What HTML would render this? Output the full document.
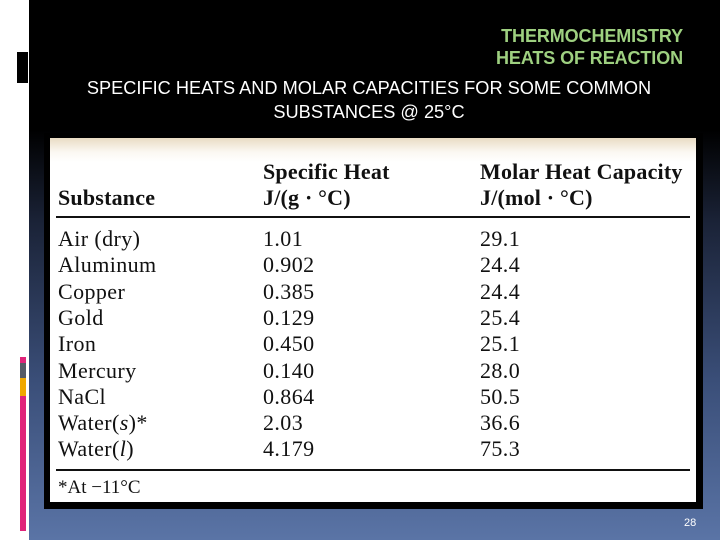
<!DOCTYPE html>
<html><head><meta charset="utf-8"><style>
body{margin:0;width:720px;height:540px;overflow:hidden;position:relative;background:#fff;font-family:"Liberation Sans",sans-serif}
.bg{position:absolute;left:29px;top:0;width:691px;height:540px;background:linear-gradient(#000 0px,#000 130px,#1a2236 220px,#3a4e78 380px,#5a74a6 540px)}
.abs{position:absolute}
.t{position:absolute;font-family:"Liberation Serif",serif;font-size:22px;letter-spacing:0.4px;color:#111;white-space:nowrap;line-height:1}
.h{font-weight:bold;letter-spacing:0.2px}
</style></head><body>
<div class="bg"></div>
<div class="abs" style="left:17px;top:52px;width:11px;height:31px;background:#000"></div>
<div class="abs" style="left:20px;top:357px;width:6px;height:174px;background:#e0247a"></div>
<div class="abs" style="left:20px;top:363px;width:6px;height:15px;background:#555a66"></div>
<div class="abs" style="left:20px;top:378px;width:6px;height:18px;background:#f0a800"></div>
<div class="abs" style="right:37px;top:25px;text-align:right;color:#9ed080;font-weight:bold;font-size:18px;line-height:22px;letter-spacing:-0.1px">THERMOCHEMISTRY<br>HEATS OF REACTION</div>
<div class="abs" style="left:29px;top:76px;text-align:center;color:#fff;font-size:18.2px;line-height:24px;width:680px">SPECIFIC HEATS AND MOLAR CAPACITIES FOR SOME COMMON<br>SUBSTANCES @ 25°C</div>
<div class="abs" style="left:44px;top:133px;width:659px;height:376px;background:#000"></div>
<div class="abs" style="left:50px;top:138px;width:646px;height:364px;background:linear-gradient(#e9dcc4 0px,#fbf8f2 14px,#fff 24px)"></div>
<div class="t h" style="left:58px;top:187px">Substance</div>
<div class="t h" style="left:263px;top:161px">Specific Heat</div>
<div class="t h" style="left:263px;top:187px">J/(g · °C)</div>
<div class="t h" style="left:480px;top:161px">Molar Heat Capacity</div>
<div class="t h" style="left:480px;top:187px">J/(mol · °C)</div>
<div class="abs" style="left:56px;top:216px;width:634px;height:2px;background:#111"></div>
<div id="rows"></div>
<div class="abs" style="left:56px;top:469px;width:634px;height:2px;background:#111"></div>
<div class="t" style="left:58px;top:478px;font-size:19px;letter-spacing:0">*At −11°C</div>
<div class="abs" style="left:684px;top:517px;color:#fff;font-size:11px">28</div>
<script>
const substances=["Air (dry)","Aluminum","Copper","Gold","Iron","Mercury","NaCl","Water(<i>s</i>)*","Water(<i>l</i>)"];
const specificHeats=["1.01","0.902","0.385","0.129","0.450","0.140","0.864","2.03","4.179"];
const molarCaps=["29.1","24.4","24.4","25.4","25.1","28.0","50.5","36.6","75.3"];
const rows=document.getElementById('rows');
substances.forEach((s,i)=>{
  const y=228+i*26.3;
  [[s,58,'substance'],[specificHeats[i],263,'specific-heat'],[molarCaps[i],480,'molar-capacity']].forEach(([txt,x,k])=>{
    const d=document.createElement('div');
    d.className='t';
    d.style.left=x+'px';d.style.top=y+'px';
    d.innerHTML=txt;
    
    
    rows.appendChild(d);
  });
});
</script>
</body></html>
